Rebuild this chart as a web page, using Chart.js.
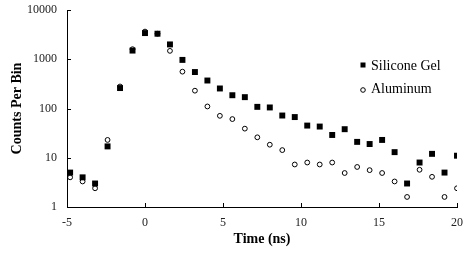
<!DOCTYPE html>
<html lang="en">
<head>
  <meta charset="UTF-8">
  <title>Counts Per Bin</title>
  <style>
    body {
      margin: 0;
      background: #ffffff;
    }
    .chart-box {
      width: 471px;
      height: 255px;
    }
  </style>
</head>
<body>
  <div class="chart-box">
    <canvas id="counts-chart" width="471" height="255"></canvas>
  </div>

  <script src="https://cdn.jsdelivr.net/npm/chart.js"></script>
  <script>
    // time bins (ns)
    const times = [-4.8, -4.0, -3.2, -2.4, -1.6, -0.8, 0.0, 0.8, 1.6, 2.4, 3.2, 4.0, 4.8, 5.6, 6.4, 7.2,
                   8.0, 8.8, 9.6, 10.4, 11.2, 12.0, 12.8, 13.6, 14.4, 15.2, 16.0, 16.8, 17.6, 18.4, 19.2, 20.0];
    const siliconeGel = [5.0, 4.0, 3.0, 17, 260, 1500, 3400, 3300, 2000, 970, 550, 370, 255, 186, 170, 108,
                         105, 72, 67, 45, 43, 29, 38, 21, 19, 23, 13, 3.0, 8.0, 12, 5.0, 11];
    const aluminum = [4.0, 3.3, 2.4, 23, 280, 1600, 3650, 3300, 1480, 560, 230, 110, 71, 61, 39, 26,
                      18.4, 14.3, 7.3, 8.0, 7.3, 8.0, 4.9, 6.5, 5.6, 4.9, 3.3, 1.6, 5.7, 4.1, 1.6, 2.4];
    const seriesNames = ['Silicone Gel', 'Aluminum'];
    const yTicks = [1, 10, 100, 1000, 10000];
    const xTicks = [-5, 0, 5, 10, 15, 20];

    const toPoints = vals => vals.map((v, i) => ({ x: times[i], y: v }));

    // small inside tick marks, like the spreadsheet original
    const insideTicks = {
      id: 'insideTicks',
      afterDraw(chart) {
        const ctx = chart.ctx;
        const xs = chart.scales.x, ys = chart.scales.y;
        ctx.save();
        ctx.strokeStyle = '#000';
        ctx.lineWidth = 1;
        ctx.beginPath();
        xTicks.forEach(t => {
          const px = Math.round(xs.getPixelForValue(t)) + 0.5;
          ctx.moveTo(px, xs.top);
          ctx.lineTo(px, xs.top - 4);
        });
        yTicks.forEach(t => {
          const py = Math.round(ys.getPixelForValue(t)) + 0.5;
          ctx.moveTo(ys.right, py);
          ctx.lineTo(ys.right + 4, py);
        });
        ctx.stroke();
        ctx.restore();
      }
    };

    // legend inside the plot, top right
    const innerLegend = {
      id: 'innerLegend',
      afterDraw(chart) {
        const ctx = chart.ctx;
        const area = chart.chartArea;
        const mx = area.right - 94;
        const rows = [area.top + 55, area.top + 79];
        ctx.save();
        ctx.font = '14px "Liberation Serif", "Times New Roman", serif';
        ctx.textBaseline = 'middle';
        ctx.textAlign = 'left';
        ctx.fillStyle = '#000';
        ctx.strokeStyle = '#000';
        ctx.lineWidth = 1;
        // square
        ctx.fillRect(mx - 2.5, rows[0] - 2.5, 5, 5);
        ctx.fillText(seriesNames[0], mx + 8, rows[0] + 1);
        // circle
        ctx.beginPath();
        ctx.arc(mx, rows[1] + 1, 2.3, 0, Math.PI * 2);
        ctx.stroke();
        ctx.fillText(seriesNames[1], mx + 8, rows[1]);
        ctx.restore();
      }
    };

    const serif = '"Liberation Serif", "Times New Roman", serif';

    new Chart(document.getElementById('counts-chart'), {
      type: 'scatter',
      data: {
        datasets: [{
          label: seriesNames[0],
          data: toPoints(siliconeGel),
          pointStyle: 'rect',
          pointRadius: 4.2,
          pointHoverRadius: 4.2,
          backgroundColor: '#000',
          borderColor: '#000',
          borderWidth: 0
        }, {
          label: seriesNames[1],
          data: toPoints(aluminum),
          pointStyle: 'circle',
          pointRadius: 2.4,
          pointHoverRadius: 2.4,
          backgroundColor: 'rgba(255,255,255,0)',
          borderColor: '#000',
          borderWidth: 1
        }]
      },
      options: {
        responsive: false,
        animation: false,
        events: [],
        layout: {
          padding: { top: 10, right: 14, bottom: 0, left: 0 }
        },
        plugins: {
          legend: { display: false },
          tooltip: { enabled: false }
        },
        scales: {
          x: {
            type: 'linear',
            min: -5,
            max: 20,
            afterFit(scale) {
              scale.height = 48;
              scale.paddingLeft = 0;
              scale.paddingRight = 0;
            },
            afterBuildTicks(scale) { scale.ticks = xTicks.map(v => ({ value: v })); },
            grid: { display: false, drawTicks: false },
            border: { display: true, color: '#000', width: 1 },
            ticks: {
              padding: 9,
              color: '#222',
              font: { family: serif, size: 12 },
              callback: v => String(v)
            },
            title: {
              display: true,
              text: 'Time (ns)',
              color: '#000',
              font: { family: serif, size: 14, weight: 'bold' },
              padding: { top: 0, bottom: 7 }
            }
          },
          y: {
            type: 'logarithmic',
            min: 1,
            max: 10000,
            afterFit(scale) {
              scale.width = 67;
              scale.paddingTop = 0;
              scale.paddingBottom = 0;
            },
            afterBuildTicks(scale) { scale.ticks = yTicks.map(v => ({ value: v })); },
            grid: { display: false, drawTicks: false },
            border: { display: true, color: '#000', width: 1 },
            ticks: {
              padding: 10,
              color: '#222',
              font: { family: serif, size: 12 },
              callback: v => String(v)
            },
            title: {
              display: true,
              text: 'Counts Per Bin',
              color: '#000',
              font: { family: serif, size: 14, weight: 'bold' },
              padding: { top: 9, bottom: 0 }
            }
          }
        }
      },
      plugins: [insideTicks, innerLegend]
    });
  </script>
</body>
</html>
